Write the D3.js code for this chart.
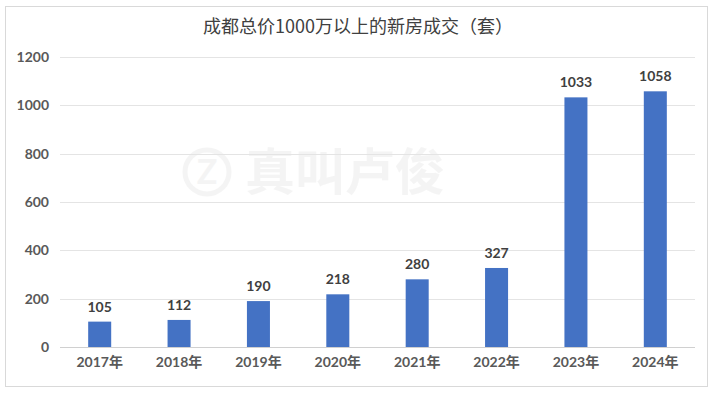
<!DOCTYPE html>
<html>
<head>
<meta charset="utf-8">
<script src="https://cdn.jsdelivr.net/npm/d3@7"></script>
<style>
  body { margin: 0; background: #fff; }
  svg { display: block; }
</style>
</head>
<body>
<svg id="chart" width="717" height="395"></svg>
<script>
// chart data
var years = ["2017年", "2018年", "2019年", "2020年", "2021年", "2022年", "2023年", "2024年"];
var deals = [105, 112, 190, 218, 280, 327, 1033, 1058];
var yTicks = [0, 200, 400, 600, 800, 1000, 1200];

var svg = d3.select("#chart");
var numFont = "Lato, 'Noto Sans CJK SC', sans-serif";

// outer frame
svg.append("rect")
    .attr("x", 5.5).attr("y", 6.5)
    .attr("width", 702).attr("height", 380)
    .attr("fill", "#fff")
    .attr("stroke", "#d9d9d9");

// title
svg.append("text")
    .attr("x", 358).attr("y", 33)
    .attr("text-anchor", "middle")
    .attr("font-family", "'Noto Sans CJK SC', sans-serif")
    .attr("font-size", 18)
    .attr("fill", "#404040")
    .text("成都总价1000万以上的新房成交（套）");

var x = d3.scaleBand()
            .domain(years)
            .range([60, 695])
            .paddingInner(0.71)
            .paddingOuter(0.355);

var y = d3.scaleLinear()
            .domain([0, 1200])
            .range([347, 57]);

// watermark
var wm = svg.append("g").attr("opacity", 0.4);
wm.append("circle")
    .attr("cx", 207).attr("cy", 172).attr("r", 22)
    .attr("fill", "none").attr("stroke", "#e6e6e6").attr("stroke-width", 5);
wm.append("text")
    .attr("x", 207).attr("y", 184)
    .attr("text-anchor", "middle")
    .attr("font-family", numFont)
    .attr("font-weight", "bold")
    .attr("font-size", 34)
    .attr("fill", "#e6e6e6")
    .text("Z");
wm.append("text")
    .attr("x", 245).attr("y", 190)
    .attr("font-family", "'Noto Sans CJK SC', sans-serif")
    .attr("font-weight", "bold")
    .attr("font-size", 50)
    .attr("fill", "#e6e6e6")
    .text("真叫卢俊");

// gridlines
svg.append("g")
    .selectAll("line")
    .data(yTicks)
    .enter()
    .append("line")
    .attr("x1", 60).attr("x2", 695)
    .attr("y1", function(d) { return Math.round(y(d)) + 0.5; })
    .attr("y2", function(d) { return Math.round(y(d)) + 0.5; })
    .attr("stroke", function(d) { return d === 0 ? "#d0d0d0" : "#e4e4e4"; });

// y axis labels
var yAxis = d3.axisLeft(y).tickValues(yTicks).tickFormat(d3.format("d")).tickSize(0).tickPadding(0);
var gy = svg.append("g")
    .attr("transform", "translate(49,0)")
    .call(yAxis);
gy.select(".domain").remove();
gy.selectAll("text")
    .attr("font-family", numFont)
    .attr("font-weight", "bold")
    .attr("font-size", 14)
    .attr("fill", "#595959");

// x axis labels
var xAxis = d3.axisBottom(x).tickSize(0).tickPadding(0);
var gx = svg.append("g")
    .attr("transform", "translate(0,357)")
    .call(xAxis);
gx.select(".domain").remove();
gx.selectAll("text")
    .attr("font-family", numFont)
    .attr("font-weight", "bold")
    .attr("font-size", 14)
    .attr("fill", "#595959");

// bars
svg.append("g")
    .selectAll("rect")
    .data(deals)
    .enter()
    .append("rect")
    .attr("x", function(d, i) { return x(years[i]); })
    .attr("y", function(d) { return y(d); })
    .attr("width", x.bandwidth())
    .attr("height", function(d) { return y(0) - y(d); })
    .attr("fill", "#4472c4");

// value labels
svg.append("g")
    .selectAll("text")
    .data(deals)
    .enter()
    .append("text")
    .attr("x", function(d, i) { return x(years[i]) + x.bandwidth() / 2; })
    .attr("y", function(d) { return y(d) - 10; })
    .attr("text-anchor", "middle")
    .attr("font-family", numFont)
    .attr("font-weight", "bold")
    .attr("font-size", 14)
    .attr("fill", "#404040")
    .text(function(d) { return d; });
</script>
</body>
</html>
